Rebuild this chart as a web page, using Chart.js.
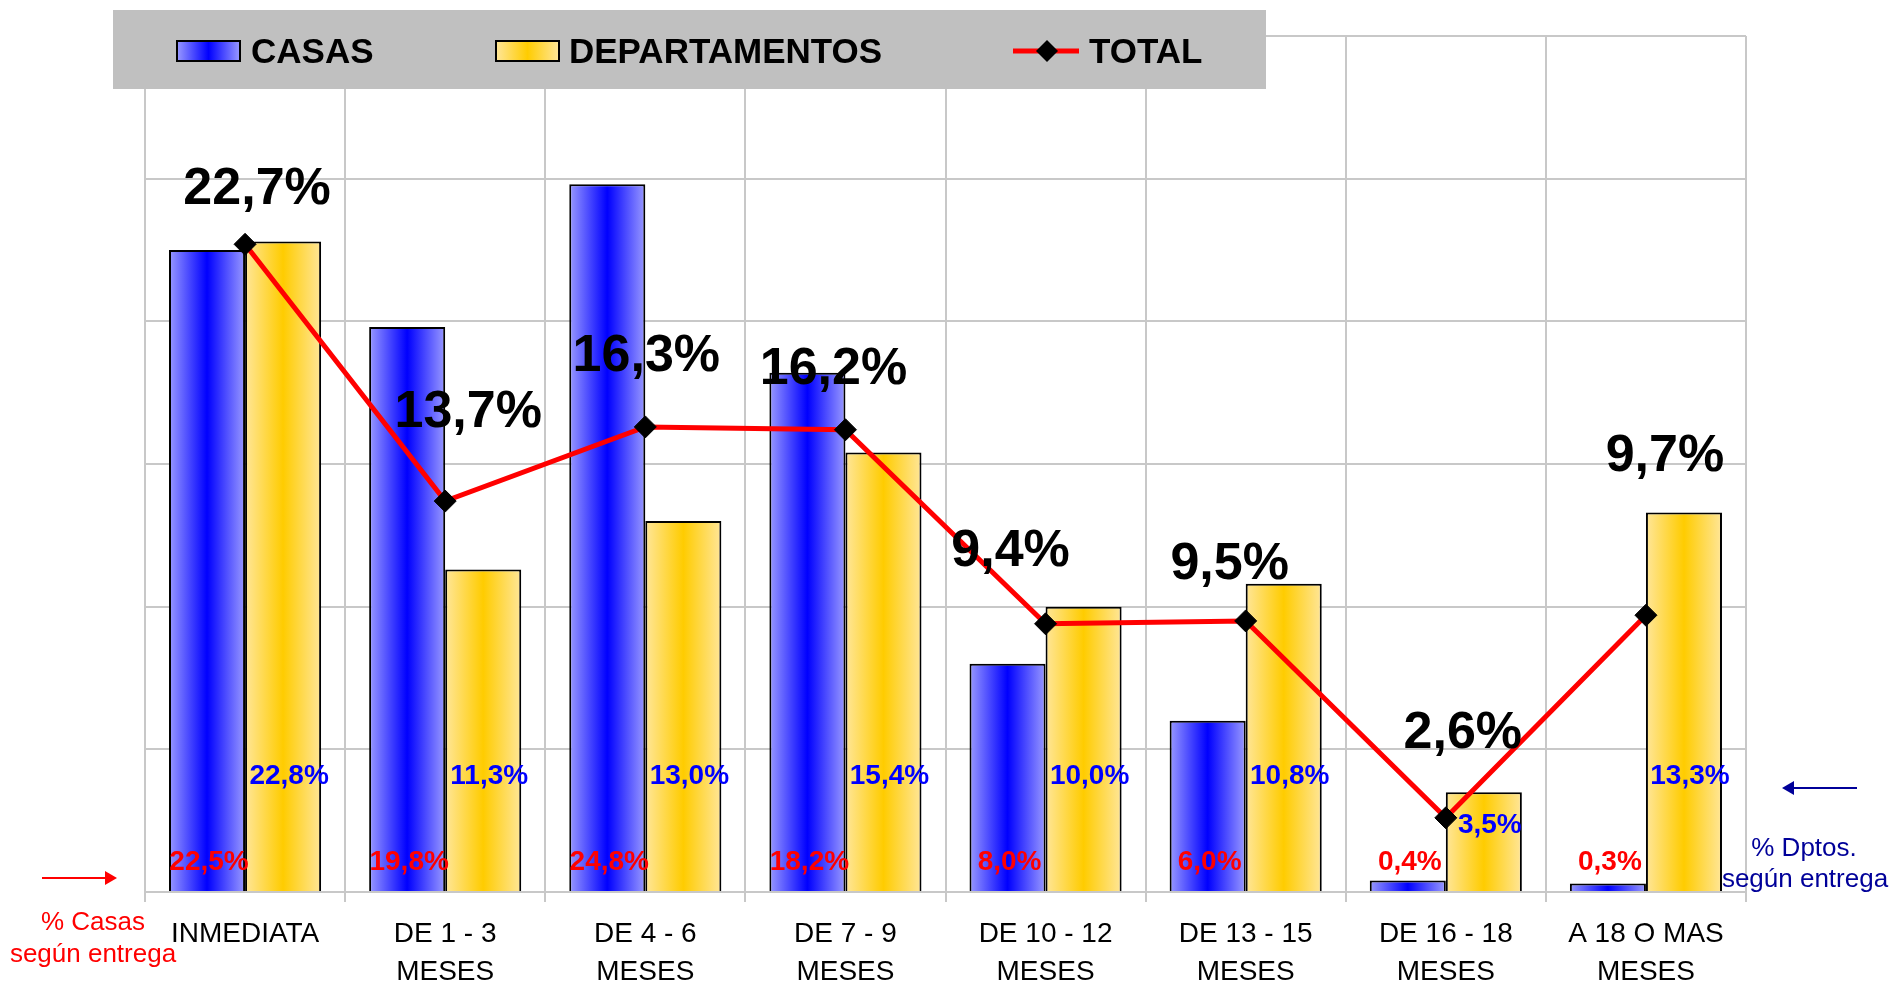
<!DOCTYPE html>
<html>
<head>
<meta charset="utf-8">
<script src="https://cdn.jsdelivr.net/npm/chart.js@4"></script>
<style>
  html, body { margin: 0; padding: 0; background: #fff; }
  canvas { display: block; }
</style>
</head>
<body>
<canvas id="chart" width="1891" height="983"></canvas>
<script>
const categories = [
  ['INMEDIATA'],
  ['DE 1 - 3', 'MESES'],
  ['DE 4 - 6', 'MESES'],
  ['DE 7 - 9', 'MESES'],
  ['DE 10 - 12', 'MESES'],
  ['DE 13 - 15', 'MESES'],
  ['DE 16 - 18', 'MESES'],
  ['A 18 O MAS', 'MESES']
];
const casas = [22.5, 19.8, 24.8, 18.2, 8.0, 6.0, 0.4, 0.3];
const departamentos = [22.8, 11.3, 13.0, 15.4, 10.0, 10.8, 3.5, 13.3];
const total = [22.7, 13.7, 16.3, 16.2, 9.4, 9.5, 2.6, 9.7];
const seriesNames = ['CASAS', 'DEPARTAMENTOS', 'TOTAL'];

// where the big TOTAL labels sit (baseline), relative to their point (px)
const totalLabelShift = [[12, -40], [23, -74], [1, -56], [-12, -46], [-35, -58], [-16, -42], [17, -70], [19, -144]];

const FONT = '"Liberation Sans", Arial, sans-serif';
const GROUP = 0.76;

function fmt(v) {
  return v.toFixed(1).replace('.', ',') + '%';
}

function barGradient(ctx, light, dark, side) {
  const chart = ctx.chart;
  const xs = chart.scales.x;
  if (!xs || ctx.dataIndex === undefined || !xs.width) return dark;
  const center = xs.getPixelForValue(ctx.dataIndex);
  const w = xs.width / categories.length * GROUP / 2;
  const x0 = side === 0 ? center - w : center;
  const g = chart.ctx.createLinearGradient(x0, 0, x0 + w, 0);
  g.addColorStop(0, light);
  g.addColorStop(0.5, dark);
  g.addColorStop(1, light);
  return g;
}

function swatch(c, x, y, w, h, light, dark) {
  const g = c.createLinearGradient(x, 0, x + w, 0);
  g.addColorStop(0, light);
  g.addColorStop(0.5, dark);
  g.addColorStop(1, light);
  c.fillStyle = g;
  c.fillRect(x, y, w, h);
  c.strokeStyle = '#000';
  c.lineWidth = 2;
  c.strokeRect(x, y, w, h);
}

function arrow(c, x1, x2, y, color) {
  const dir = x2 > x1 ? 1 : -1;
  c.strokeStyle = color;
  c.fillStyle = color;
  c.lineWidth = 2;
  c.beginPath();
  c.moveTo(x1, y);
  c.lineTo(x2 - dir * 8, y);
  c.stroke();
  c.beginPath();
  c.moveTo(x2, y);
  c.lineTo(x2 - dir * 12, y - 7);
  c.lineTo(x2 - dir * 12, y + 7);
  c.closePath();
  c.fill();
}

const legendBox = {
  id: 'legendBox',
  beforeDatasetsDraw(chart) {
    const c = chart.ctx;
    c.save();
    c.fillStyle = '#C0C0C0';
    c.fillRect(113, 10, 1153, 79);
    swatch(c, 177, 41, 63, 20, '#9999FF', '#0000FF');
    swatch(c, 496, 41, 63, 20, '#FFE699', '#FFCC00');
    c.strokeStyle = '#FF0000';
    c.lineWidth = 5;
    c.beginPath();
    c.moveTo(1013, 51);
    c.lineTo(1079, 51);
    c.stroke();
    c.fillStyle = '#000';
    c.beginPath();
    c.moveTo(1047, 40);
    c.lineTo(1058, 51);
    c.lineTo(1047, 62);
    c.lineTo(1036, 51);
    c.closePath();
    c.fill();
    c.font = 'bold 35px ' + FONT;
    c.textBaseline = 'alphabetic';
    c.textAlign = 'left';
    c.fillText(seriesNames[0], 251, 63);
    c.fillText(seriesNames[1], 569, 63);
    c.fillText(seriesNames[2], 1089, 63);
    c.restore();
  }
};

const valueLabels = {
  id: 'valueLabels',
  afterDatasetsDraw(chart) {
    const c = chart.ctx;
    const base = chart.scales.y.getPixelForValue(0);
    const mCasas = chart.getDatasetMeta(0);
    const mDptos = chart.getDatasetMeta(1);
    const mTotal = chart.getDatasetMeta(2);
    c.save();
    c.textAlign = 'center';
    c.textBaseline = 'middle';
    c.font = 'bold 28px ' + FONT;
    c.fillStyle = '#FF0000';
    mCasas.data.forEach((bar, i) => {
      c.fillText(fmt(casas[i]), bar.x + 2, base - 30);
    });
    c.fillStyle = '#0000FF';
    mDptos.data.forEach((bar, i) => {
      const y = Math.max(base - 116, bar.y + 33);
      c.fillText(fmt(departamentos[i]), bar.x + 6, y);
    });
    c.font = 'bold 52px ' + FONT;
    c.textBaseline = 'alphabetic';
    c.fillStyle = '#000';
    mTotal.data.forEach((pt, i) => {
      const s = totalLabelShift[i];
      c.fillText(fmt(total[i]), pt.x + s[0], pt.y + s[1]);
    });
    c.restore();
  }
};

const sideNotes = {
  id: 'sideNotes',
  afterDraw(chart) {
    const c = chart.ctx;
    c.save();
    arrow(c, 42, 117, 878, '#FF0000');
    arrow(c, 1857, 1782, 788, '#000099');
    c.textAlign = 'center';
    c.textBaseline = 'alphabetic';
    c.font = '26px ' + FONT;
    c.fillStyle = '#FF0000';
    c.fillText('% Casas', 93, 930);
    c.fillText('según entrega', 93, 962);
    c.fillStyle = '#000099';
    c.fillText('% Dptos.', 1804, 856);
    c.fillText('según entrega', 1805, 887);
    c.restore();
  }
};

new Chart(document.getElementById('chart'), {
  type: 'bar',
  data: {
    labels: categories,
    datasets: [
      {
        label: seriesNames[0],
        data: casas,
        order: 1,
        backgroundColor: ctx => barGradient(ctx, '#9999FF', '#0000FF', 0),
        borderColor: '#000',
        borderWidth: 2,
        categoryPercentage: GROUP,
        barPercentage: 1
      },
      {
        label: seriesNames[1],
        data: departamentos,
        order: 1,
        backgroundColor: ctx => barGradient(ctx, '#FFE699', '#FFCC00', 1),
        borderColor: '#000',
        borderWidth: 2,
        categoryPercentage: GROUP,
        barPercentage: 1
      },
      {
        type: 'line',
        label: seriesNames[2],
        data: total,
        order: 0,
        borderColor: '#FF0000',
        borderWidth: 5,
        pointStyle: 'rectRot',
        pointRadius: 11,
        pointBackgroundColor: '#000',
        pointBorderColor: '#000',
        pointBorderWidth: 1,
        tension: 0
      }
    ]
  },
  options: {
    responsive: false,
    animation: false,
    layout: { padding: { left: 145, right: 145, top: 36, bottom: 0 } },
    plugins: {
      legend: { display: false },
      tooltip: { enabled: false }
    },
    scales: {
      x: {
        grid: { color: '#C8C8C8', lineWidth: 2, tickLength: 10, offset: true },
        border: { color: '#C8C8C8', width: 2 },
        ticks: {
          color: '#000',
          font: { family: FONT, size: 28, lineHeight: 1.36 },
          padding: 13,
          maxRotation: 0,
          autoSkip: false
        },
        afterFit(scale) { scale.height = 91; }
      },
      y: {
        min: 0,
        max: 30,
        ticks: { stepSize: 5, display: false },
        grid: { color: '#C8C8C8', lineWidth: 2, drawTicks: false },
        border: { color: '#C8C8C8', width: 2 },
        afterFit(scale) { scale.width = 0; }
      }
    }
  },
  plugins: [legendBox, valueLabels, sideNotes]
});
</script>
</body>
</html>
